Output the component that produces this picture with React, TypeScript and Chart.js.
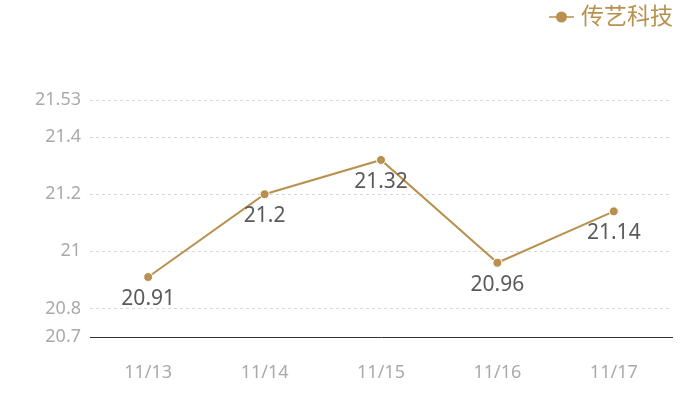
import React, { useEffect, useRef } from "react";
import { Chart, registerables } from "chart.js";

Chart.register(...registerables);

const seriesName = "传艺科技";
const categories = ["11/13", "11/14", "11/15", "11/16", "11/17"];
const values = [20.91, 21.2, 21.32, 20.96, 21.14];
const yTicks = [20.7, 20.8, 21, 21.2, 21.4, 21.53];
const yMin = 20.7;
const yMax = 21.53;

const GOLD = "#b8914f";
const FONT = "'Noto Sans', 'Noto Sans CJK SC', sans-serif";

const labelPlugin = {
  id: "valueLabels",
  afterDatasetsDraw(chart: any) {
    const ctx = chart.ctx;
    const meta = chart.getDatasetMeta(0);
    ctx.save();
    ctx.font = `21px ${FONT}`;
    ctx.fillStyle = "#5a5a5a";
    ctx.textAlign = "center";
    ctx.textBaseline = "middle";
    meta.data.forEach((pt: any, i: number) => {
      const v = chart.data.datasets[0].data[i];
      ctx.fillText(String(v), pt.x, pt.y + 22);
    });
    ctx.restore();
  },
};

const legendPlugin = {
  id: "customLegend",
  afterDraw(chart: any) {
    const ctx = chart.ctx;
    const label = chart.data.datasets[0].label;
    ctx.save();
    ctx.font = `23px ${FONT}`;
    const tw = ctx.measureText(label).width;
    const right = chart.width - 27;
    const cy = 17;
    const tx = right - tw;
    ctx.fillStyle = GOLD;
    ctx.textAlign = "left";
    ctx.textBaseline = "middle";
    ctx.fillText(label, tx, cy);
    const lx2 = tx - 7;
    const lx1 = lx2 - 25;
    ctx.strokeStyle = GOLD;
    ctx.lineWidth = 1.5;
    ctx.beginPath();
    ctx.moveTo(lx1, cy);
    ctx.lineTo(lx2, cy);
    ctx.stroke();
    ctx.beginPath();
    ctx.arc((lx1 + lx2) / 2, cy, 5.5, 0, Math.PI * 2);
    ctx.fill();
    ctx.restore();
  },
};

export default function App() {
  const ref = useRef<HTMLCanvasElement | null>(null);
  useEffect(() => {
    document.body.style.margin = "0";
    const chart = new Chart(ref.current as HTMLCanvasElement, {
      type: "line",
      data: {
        labels: categories,
        datasets: [
          {
            label: seriesName,
            data: values,
            borderColor: GOLD,
            backgroundColor: GOLD,
            borderWidth: 2,
            pointRadius: 4.5,
            pointBorderColor: "#ffffff",
            pointBorderWidth: 1,
            pointBackgroundColor: GOLD,
            tension: 0,
          },
        ],
      },
      options: {
        responsive: false,
        animation: false,
        maintainAspectRatio: false,
        layout: { padding: { top: 100, right: 28, bottom: 0, left: 0 } },
        plugins: {
          legend: { display: false },
          tooltip: { enabled: false },
        },
        scales: {
          x: {
            offset: true,
            afterFit(scale: any) {
              scale.height = 63;
            },
            grid: { display: false, drawTicks: false },
            border: { display: true, color: "#333333", width: 1 },
            ticks: {
              padding: 25,
              maxRotation: 0,
              color: "#aaaaaa",
              font: { family: FONT, size: 18 },
            },
          },
          y: {
            min: yMin,
            max: yMax,
            afterBuildTicks(scale: any) {
              scale.ticks = yTicks.map((v) => ({ value: v }));
            },
            afterFit(scale: any) {
              scale.width = 90;
            },
            grid: {
              drawTicks: false,
              color: (c: any) => (c.tick && c.tick.value === yMin ? "rgba(0,0,0,0)" : "#d9d9d9"),
              lineWidth: 1,
            },
            border: { display: false, dash: [3, 3] },
            ticks: {
              padding: 9,
              color: "#aaaaaa",
              font: { family: FONT, size: 18 },
              callback: (v: any) => String(v),
            },
          },
        },
      },
      plugins: [labelPlugin, legendPlugin],
    });
    return () => chart.destroy();
  }, []);
  return (
    <div style={{ width: 700, height: 400 }}>
      <canvas ref={ref} width={700} height={400} />
    </div>
  );
}
